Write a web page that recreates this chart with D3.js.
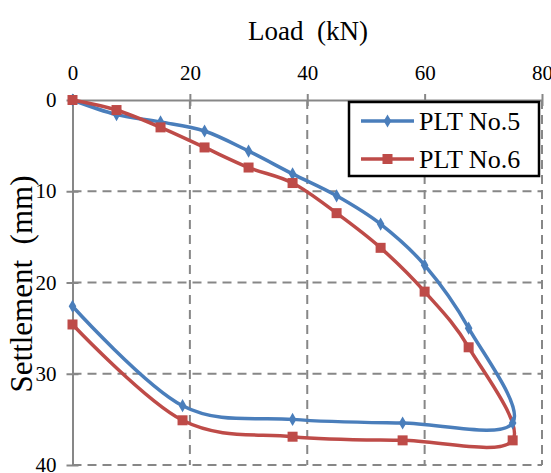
<!DOCTYPE HTML>
<html>
<script src='https://d3js.org/d3.v7.min.js'></script>
<body style="margin:0" onload='init()'>

<svg id="svgMain" width="551" height="473" style="background-color:white"></svg>

<script>

// load steps (kN) and settlements (mm)
const loads = [0, 7.5, 15, 22.5, 30, 37.5, 45, 52.5, 60, 67.5, 75, 56.25, 37.5, 18.75, 0];
const plt5 = [0, 1.6, 2.4, 3.4, 5.6, 8.1, 10.5, 13.6, 18.1, 25.0, 35.4, 35.4, 35.0, 33.5, 22.6];
const plt6 = [0, 1.1, 3.0, 5.2, 7.4, 9.1, 12.4, 16.2, 21.0, 27.1, 37.3, 37.3, 36.9, 35.1, 24.6];
const seriesNames = ["PLT No.5", "PLT No.6"];
const xTicks = [0, 20, 40, 60, 80];
const yTicks = [0, 10, 20, 30, 40];

function init() {
   const svg = d3.select('svg');
   const font = "Times New Roman, Liberation Serif, DejaVu Serif, serif";

   var xs = d3.scaleLinear().domain([0, 80]).range([72.5, 542]);
   var ys = d3.scaleLinear().domain([0, 40]).range([100, 465]);

   // dashed grid
   svg.append('g').selectAll('line')
      .data(xTicks.slice(1))
      .enter().append('line')
      .attr('x1', d => xs(d)).attr('x2', d => xs(d))
      .attr('y1', ys(0)).attr('y2', ys(40))
      .attr('stroke', '#878787').attr('stroke-width', 2)
      .attr('stroke-dasharray', '9,6');
   svg.append('g').selectAll('line')
      .data(yTicks.slice(1))
      .enter().append('line')
      .attr('x1', xs(0)).attr('x2', xs(80))
      .attr('y1', d => ys(d)).attr('y2', d => ys(d))
      .attr('stroke', '#878787').attr('stroke-width', 2)
      .attr('stroke-dasharray', '9,6');

   // axes: top and left, ticks crossing the line
   const xAxis = d3.axisTop(xs).tickValues(xTicks).tickSizeInner(6).tickSizeOuter(0).tickPadding(14);
   const yAxis = d3.axisLeft(ys).tickValues(yTicks).tickSizeInner(6).tickSizeOuter(0).tickPadding(10);

   const gx = svg.append('g').attr('transform', 'translate(0,' + ys(0) + ')').call(xAxis);
   const gy = svg.append('g').attr('transform', 'translate(' + xs(0) + ',0)').call(yAxis);

   [gx, gy].forEach(g => {
      g.attr('font-family', font).attr('font-size', 21);
      g.select('.domain').attr('stroke', '#878787').attr('stroke-width', 2);
      g.selectAll('.tick line').attr('stroke', '#878787').attr('stroke-width', 2);
      g.selectAll('.tick text').attr('fill', 'black');
   });
   gx.selectAll('.tick line').attr('y2', 6).attr('y1', -6);
   gy.selectAll('.tick line').attr('x2', 6).attr('x1', -6);

   // series
   const data5 = loads.map((d, i) => ({x: d, y: plt5[i]}));
   const data6 = loads.map((d, i) => ({x: d, y: plt6[i]}));

   const line = d3.line()
      .x(d => xs(d.x))
      .y(d => ys(d.y))
      .curve(d3.curveCardinal.tension(0));

   svg.append('path').datum(data5)
      .attr('d', line).attr('fill', 'none')
      .attr('stroke', '#4a7ebb').attr('stroke-width', 3.5);
   svg.append('path').datum(data6)
      .attr('d', line).attr('fill', 'none')
      .attr('stroke', '#be4b48').attr('stroke-width', 3.5);

   svg.append('g').selectAll('path')
      .data(data5)
      .enter().append('path')
      .attr('d', d3.symbol().type(d3.symbolDiamond).size(50))
      .attr('transform', d => 'translate(' + xs(d.x) + ',' + ys(d.y) + ')')
      .attr('fill', '#4a7ebb');
   svg.append('g').selectAll('rect')
      .data(data6)
      .enter().append('rect')
      .attr('x', d => xs(d.x) - 5).attr('y', d => ys(d.y) - 5)
      .attr('width', 10).attr('height', 10)
      .attr('fill', '#be4b48');

   // titles
   svg.append('text')
      .attr('x', 308).attr('y', 40)
      .attr('text-anchor', 'middle')
      .attr('font-family', font).attr('font-size', 27)
      .text('Load\u00a0\u00a0(kN)');
   svg.append('text')
      .attr('transform', 'translate(32,284) rotate(-90)')
      .attr('text-anchor', 'middle')
      .attr('font-family', font).attr('font-size', 31)
      .text('Settlement\u00a0\u00a0(mm)');

   // legend
   const legend = svg.append('g');
   legend.append('rect')
      .attr('x', 349).attr('y', 102).attr('width', 190).attr('height', 74)
      .attr('fill', 'white').attr('stroke', 'black').attr('stroke-width', 2.5);
   const colors = ['#4a7ebb', '#be4b48'];
   seriesNames.forEach((name, i) => {
      const yy = 121 + i * 38;
      legend.append('line')
         .attr('x1', 361).attr('x2', 414).attr('y1', yy).attr('y2', yy)
         .attr('stroke', colors[i]).attr('stroke-width', 3.5);
      if (i == 0) {
         legend.append('path')
            .attr('d', d3.symbol().type(d3.symbolDiamond).size(50))
            .attr('transform', 'translate(387.5,' + yy + ')')
            .attr('fill', colors[i]);
      } else {
         legend.append('rect')
            .attr('x', 382.5).attr('y', yy - 5).attr('width', 10).attr('height', 10)
            .attr('fill', colors[i]);
      }
      legend.append('text')
         .attr('x', 419).attr('y', yy + 9)
         .attr('font-family', font).attr('font-size', 26)
         .text(name);
   });
}

</script>
</body>
</html>
